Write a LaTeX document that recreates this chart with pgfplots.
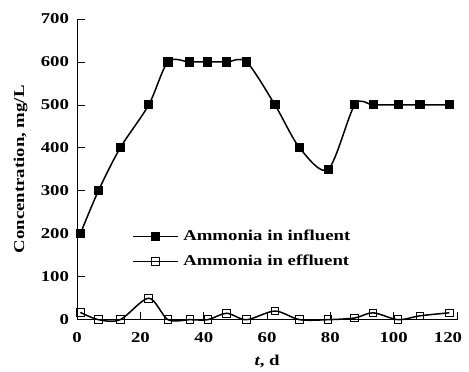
\documentclass[border=0pt]{standalone}
\usepackage{fontspec}
\setmainfont[FakeStretch=1.25]{Liberation Serif}
\usepackage{pgfplots}
\pgfplotsset{compat=1.18}
\usetikzlibrary{calc}

% ammonia concentration over time, mg/L
\pgfplotstableread{
t     inf  eff
1.0   200  17
6.7   300  0
13.6  400  0
22.6  500  50
28.7  600  0
35.6  600  0
41.3  600  0
47.2  600  15
53.5  600  0
62.5  500  20
70.3  400  0
79.3  350  0
87.7  500  4
93.5  500  16
101.4 500  0
108.3 500  9
117.6 500  16
}\ammonia

\begin{document}
\bfseries\fontsize{15bp}{18bp}\selectfont
\begin{tikzpicture}
\begin{axis}[
  name=ax,
  scale only axis,
  width=379bp, height=300bp,
  xmin=0, xmax=120, ymin=0, ymax=700,
  axis x line*=bottom, axis y line*=left,
  axis line style={-, line width=1bp},
  xtick={0,20,...,100}, ytick={0,100,...,700},
  extra x ticks={120},
  extra x tick style={xticklabel style={xshift=-9bp}},
  tick align=inside,
  major tick length=8bp,
  tick style={line width=0.8bp, black},
  /pgf/number format/assume math mode=true,
  xticklabel style={yshift=-8bp},
  yticklabel style={xshift=-3bp},
  xlabel={\textit{t}, d},
  ylabel={Concentration, mg/L},
  xlabel style={yshift=-2bp},
  ylabel style={yshift=3bp},
  clip=false,
  legend style={at={(0.145,0.305)}, anchor=north west, draw=none, fill=none,
    row sep=8bp, inner sep=0pt,
    /tikz/every odd column/.append style={column sep=3bp}},
  legend cell align=left,
  legend image code/.code={%
    \draw[mark repeat=2, mark phase=2, #1]
      plot coordinates {(0cm,0cm) (0.78cm,0cm) (1.56cm,0cm)};},
]
\addplot[black, line width=1.5bp, smooth, tension=0.5,
  mark=square*, mark size=3.8bp, mark options={solid, fill=black}]
  table[x=t, y=inf] {\ammonia};
\addlegendentry{Ammonia in influent}
\addplot[black, line width=1.5bp, smooth, tension=0.5,
  mark=square, mark size=3.8bp, mark options={solid, fill=white, line width=1bp}]
  table[x=t, y=eff] {\ammonia};
\addlegendentry{Ammonia in effluent}
\end{axis}
\pgfresetboundingbox
\path ($(ax.south west)+(-77bp,-52bp)$) rectangle ($(ax.north east)+(12bp,19bp)$);
\end{tikzpicture}
\end{document}
